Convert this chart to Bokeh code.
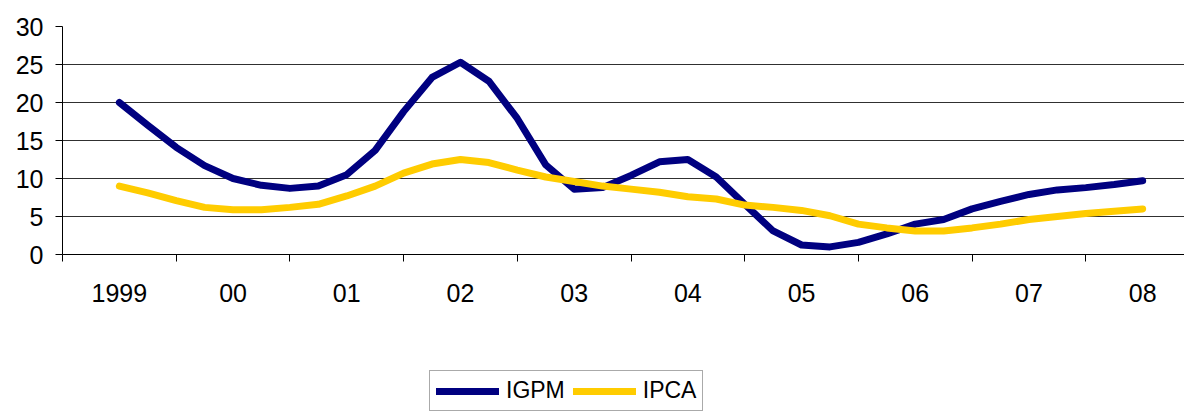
from bokeh.plotting import figure
from bokeh.layouts import column
from bokeh.models import FixedTicker, Legend, LegendItem
from bokeh.embed import file_html
from bokeh.resources import INLINE

# Category labels (one per year)
years = ["1999", "00", "01", "02", "03", "04", "05", "06", "07", "08"]

# Quarterly readings, 1999 Q1 .. 2008 Q1 (37 points), in %
igpm = [20.0, 17.0, 14.1, 11.7, 10.0, 9.1, 8.7, 9.0,
        10.5, 13.7, 18.8, 23.3, 25.3, 22.8, 17.9, 11.8,
        8.6, 8.8, 10.4, 12.2, 12.5, 10.2, 6.6, 3.1,
        1.25, 1.0, 1.6, 2.7, 4.0, 4.6, 6.0, 7.0,
        7.9, 8.5, 8.8, 9.2, 9.7]
ipca = [9.0, 8.1, 7.1, 6.2, 5.9, 5.9, 6.2, 6.6,
        7.7, 9.0, 10.7, 11.9, 12.5, 12.1, 11.1, 10.2,
        9.6, 9.0, 8.6, 8.2, 7.6, 7.3, 6.5, 6.2,
        5.8, 5.1, 4.0, 3.5, 3.1, 3.1, 3.5, 4.0,
        4.6, 5.0, 5.4, 5.7, 6.0]

series_names = ["IGPM", "IPCA"]
series_colors = ["#000080", "#FFCC00"]

yticks = [0, 5, 10, 15, 20, 25, 30]

# x positions: year i centred at i + 0.5, quarterly steps
xq = [0.5 + k / 4 for k in range(len(igpm))]
centers = [i + 0.5 for i in range(len(years))]
bounds = [float(i) for i in range(len(years) + 1)]

p = figure(frame_width=1122, frame_height=228, output_backend="svg",
           toolbar_location=None,
           x_range=(0, 1122 / 113.7), y_range=(0, 30),
           min_border_left=62, min_border_right=0, min_border_top=26,
           min_border_bottom=76)
p.outline_line_color = None
p.background_fill_color = "white"
p.border_fill_color = "white"

for vals, col in zip([igpm, ipca], series_colors):
    p.line(xq, vals, line_color=col, line_width=7,
           line_join="round", line_cap="round")

# x axis: labels at centres, tick marks at boundaries
xa = p.xaxis[0]
xa.ticker = FixedTicker(ticks=centers, minor_ticks=bounds)
xa.major_label_overrides = {c: y for c, y in zip(centers, years)}
xa.major_tick_out = 0
xa.major_tick_in = 0
xa.minor_tick_out = 7
xa.minor_tick_in = 0
xa.minor_tick_line_color = "black"
xa.axis_line_color = "black"
xa.major_label_text_font = "Liberation Sans"
xa.major_label_text_font_size = "25px"
xa.major_label_text_color = "black"
xa.major_label_standoff = 22

ya = p.yaxis[0]
ya.ticker = FixedTicker(ticks=yticks)
ya.major_tick_out = 7
ya.major_tick_in = 0
ya.minor_tick_out = 0
ya.minor_tick_in = 0
ya.axis_line_color = "black"
ya.major_tick_line_color = "black"
ya.major_label_text_font = "Liberation Sans"
ya.major_label_text_font_size = "25px"
ya.major_label_text_color = "black"
ya.major_label_standoff = 12

p.xgrid.visible = False
p.ygrid.ticker = FixedTicker(ticks=yticks)
p.ygrid.grid_line_color = "#303030"
p.ygrid.grid_line_width = 1

# Legend strip below the chart (its lines sit outside its visible range,
# only their legend glyphs show)
q = figure(width=1184, height=82, output_backend="svg", toolbar_location=None,
           x_range=(0, 1), y_range=(-200, -199),
           x_axis_location=None, y_axis_location=None,
           min_border_left=0, min_border_right=0, min_border_top=0,
           min_border_bottom=0)
q.outline_line_color = None
q.grid.visible = False
q.background_fill_color = "white"
q.border_fill_color = "white"

items = []
for name, vals, col in zip(series_names, [igpm, ipca], series_colors):
    rr = q.line(xq, vals, line_color=col, line_width=7,
                line_join="round", line_cap="round")
    items.append(LegendItem(label=name, renderers=[rr]))

legend = Legend(items=items,
                orientation="horizontal", location=(367, 1),
                glyph_width=63, glyph_height=20, label_standoff=7, spacing=8,
                padding=6, margin=0,
                label_text_font="Liberation Sans",
                label_text_font_size="23px", label_text_color="black",
                border_line_color="#555555", border_line_width=1,
                background_fill_color="white", background_fill_alpha=1.0)
q.add_layout(legend, "center")

open("out.html", "w").write(file_html(column(p, q, spacing=0), INLINE))
